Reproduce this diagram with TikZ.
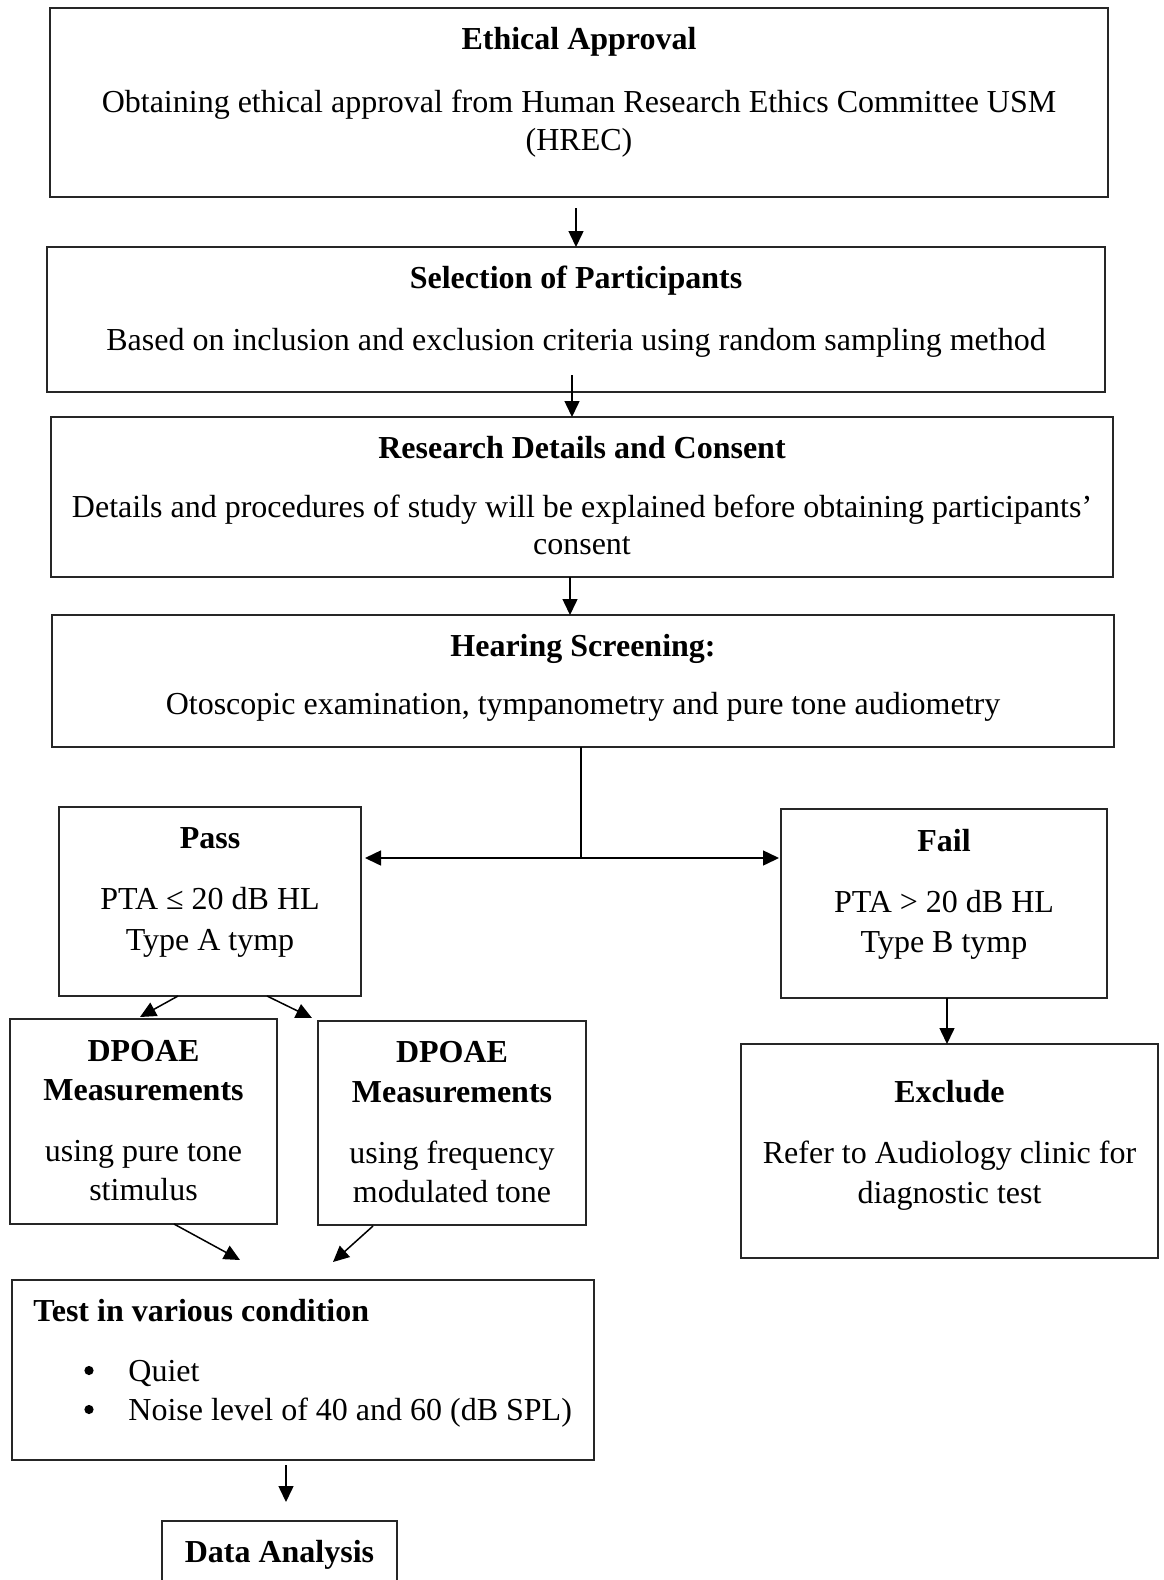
\documentclass[tikz,border=0pt]{standalone}
\usepackage{fontspec}
\setmainfont{Liberation Serif}
\usetikzlibrary{arrows.meta}
\begin{document}
\begin{tikzpicture}[x=0.5pt,y=-0.5pt,
  box/.style={draw=black!85, line width=0.75pt, inner sep=0pt, outer sep=0pt, fill=none},
  txt/.style={anchor=base, inner sep=0pt, font=\fontsize{16}{19}\selectfont},
  ttl/.style={anchor=base, inner sep=0pt, font=\fontsize{16}{19}\selectfont\bfseries},
  bul/.style={circle, fill=black, inner sep=0pt, minimum size=4.6pt},
  arr/.style={line width=0.75pt, -{Triangle[length=8pt,width=7.5pt]}},
  ln/.style={line width=0.75pt}]
\clip (0,0) rectangle (1163,1580);
\fill[white] (0,0) rectangle (1163,1580);

% boxes
\node[box, minimum width=529pt, minimum height=94.5pt] (b1) at (579,102.5) {};
\node[box, minimum width=529pt, minimum height=72.5pt] (b2) at (576,319.5) {};
\node[box, minimum width=531pt, minimum height=80pt] (b3) at (582,497) {};
\node[box, minimum width=531pt, minimum height=66pt] (b4) at (583,681) {};
\node[box, minimum width=151pt, minimum height=94.5pt] (pass) at (210,901.5) {};
\node[box, minimum width=163pt, minimum height=94.5pt] (fail) at (944,903.5) {};
\node[box, minimum width=208.5pt, minimum height=107pt] (excl) at (949.5,1151) {};
\node[box, minimum width=133.5pt, minimum height=102.5pt] (dp1) at (143.5,1121.5) {};
\node[box, minimum width=134pt, minimum height=102pt] (dp2) at (452,1123) {};
\node[box, minimum width=291pt, minimum height=90pt] (test) at (303,1370) {};
\node[box, minimum width=117.5pt, minimum height=40pt] (data) at (279.5,1561) {};

% texts
\node[ttl] (t1a) at (579,49) {Ethical Approval};
\node[txt] (t1b) at (579,112) {Obtaining ethical approval from Human Research Ethics Committee USM};
\node[txt] (t1c) at (579,150) {(HREC)};

\node[ttl] (t2a) at (576,288) {Selection of Participants};
\node[txt] (t2b) at (576,350) {Based on inclusion and exclusion criteria using random sampling method};

\node[ttl] (t3a) at (582,458) {Research Details and Consent};
\node[txt] (t3b) at (582,517) {Details and procedures of study will be explained before obtaining participants’};
\node[txt] (t3c) at (582,554) {consent};

\node[ttl] (t4a) at (583,656) {Hearing Screening:};
\node[txt] (t4b) at (583,714) {Otoscopic examination, tympanometry and pure tone audiometry};

\node[ttl] (tpa) at (210,848) {Pass};
\node[txt] (tpb) at (210,909) {PTA ≤ 20 dB HL};
\node[txt] (tpc) at (210,950) {Type A tymp};

\node[ttl] (tfa) at (944,851) {Fail};
\node[txt] (tfb) at (944,912) {PTA > 20 dB HL};
\node[txt] (tfc) at (944,952) {Type B tymp};

\node[ttl] (tea) at (949.5,1102) {Exclude};
\node[txt] (teb) at (949.5,1163) {Refer to Audiology clinic for};
\node[txt] (tec) at (949.5,1203) {diagnostic test};

\node[ttl] (td1a) at (143.5,1061) {DPOAE};
\node[ttl] (td1b) at (143.5,1100) {Measurements};
\node[txt] (td1c) at (143.5,1161) {using pure tone};
\node[txt] (td1d) at (143.5,1200) {stimulus};

\node[ttl] (td2a) at (452,1062) {DPOAE};
\node[ttl] (td2b) at (452,1102) {Measurements};
\node[txt] (td2c) at (452,1163) {using frequency};
\node[txt] (td2d) at (452,1202) {modulated tone};

\node[ttl, anchor=base west] (tta) at (33,1321) {Test in various condition};
\node[bul] (ttb) at (89,1370.5) {};
\node[txt, anchor=base west] (ttc) at (128,1381) {Quiet};
\node[bul] (ttd) at (89,1409.5) {};
\node[txt, anchor=base west] (tte) at (128,1420) {Noise level of 40 and 60 (dB SPL)};

\node[ttl] (tda) at (279.5,1562) {Data Analysis};

% connectors
\coordinate (a1s) at (576,208);
\draw[arr] (a1s) -- (b2.north -| a1s);
\coordinate (a2s) at (572,375);
\draw[arr] (a2s) -- (b3.north -| a2s);
\coordinate (a3s) at (570,577);
\draw[arr] (a3s) -- (b4.north -| a3s);

\coordinate (j0) at (581,747);
\coordinate (j1) at (581,858);
\draw[ln] (j0) -- (j1);
\draw[arr] (j1) -- ([xshift=2pt]pass.east |- j1);
\draw[arr] (j1) -- ([xshift=-1pt]fail.west |- j1);

\coordinate (f0) at (947,998);
\draw[arr] (f0) -- (excl.north -| f0);

\coordinate (p1s) at (178,996);
\coordinate (p1e) at (140,1017);
\draw[arr] (p1s) -- (p1e);
\coordinate (p2s) at (267,996);
\coordinate (p2e) at (312,1018);
\draw[arr] (p2s) -- (p2e);

\coordinate (d1s) at (174,1224);
\coordinate (d1e) at (240,1260);
\draw[arr] (d1s) -- (d1e);
\coordinate (d2s) at (373,1226);
\coordinate (d2e) at (333,1262);
\draw[arr] (d2s) -- (d2e);

\coordinate (g0) at (286,1465);
\draw[arr] (g0) -- (286,1502);
\end{tikzpicture}
\end{document}
